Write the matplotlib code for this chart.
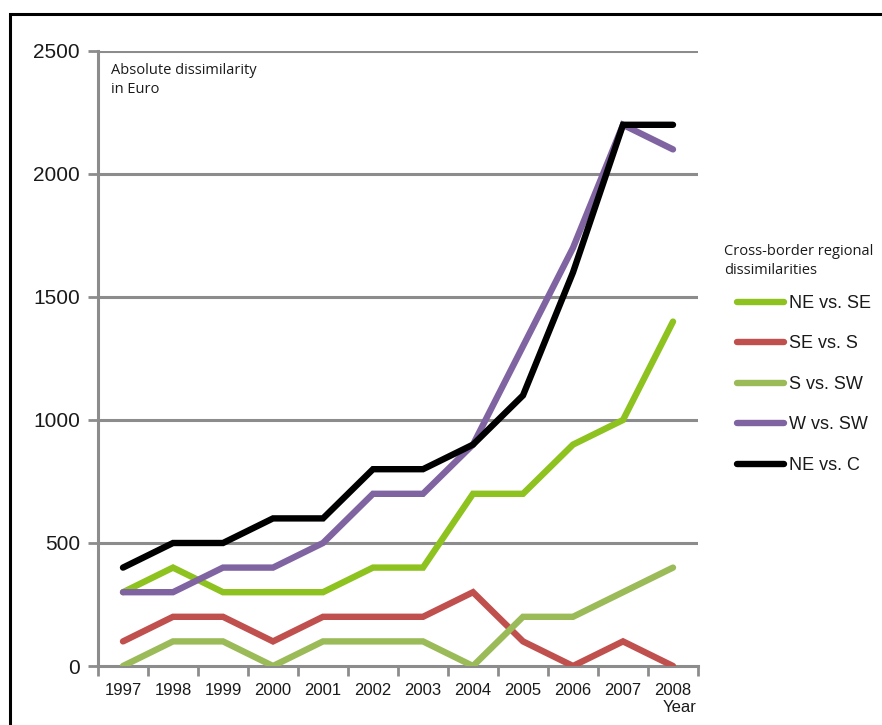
import matplotlib
matplotlib.use("Agg")
import matplotlib.pyplot as plt
from matplotlib.patches import Rectangle
from matplotlib.lines import Line2D

years = ["1997", "1998", "1999", "2000", "2001", "2002", "2003", "2004", "2005", "2006", "2007", "2008"]
ne_se = [300, 400, 300, 300, 300, 400, 400, 700, 700, 900, 1000, 1400]
se_s = [100, 200, 200, 100, 200, 200, 200, 300, 100, 0, 100, 0]
s_sw = [0, 100, 100, 0, 100, 100, 100, 0, 200, 200, 300, 400]
w_sw = [300, 300, 400, 400, 500, 700, 700, 900, 1300, 1700, 2200, 2100]
ne_c = [400, 500, 500, 600, 600, 800, 800, 900, 1100, 1600, 2200, 2200]
series_names = ["NE vs. SE", "SE vs. S", "S vs. SW", "W vs. SW", "NE vs. C"]
colors = ["#8DC21F", "#C0504D", "#9BBB59", "#8064A2", "#000000"]
yticks = [0, 500, 1000, 1500, 2000, 2500]

W, H = 882, 725
fig = plt.figure(figsize=(W / 100, H / 100), dpi=100)
fig.patch.set_facecolor("white")

# frame
fig.patches.append(Rectangle((10 / W, -0.1), 1.2, 1 - 14 / H + 0.1, transform=fig.transFigure,
                             fill=False, edgecolor="black", linewidth=2.2))

ax = fig.add_axes([98 / W, 1 - 666 / H, 600 / W, 615 / H])
ax.set_facecolor("none")
grey = "#8C8C8C"
x = list(range(len(years)))
order = [2, 1, 0, 3, 4]
data = [ne_se, se_s, s_sw, w_sw, ne_c]
for i in order:
    ax.plot(x, data[i], color=colors[i], linewidth=4.6, solid_capstyle="round",
            solid_joinstyle="miter", zorder=3 + i)

ax.set_xlim(-0.5, 11.5)
ax.set_ylim(0, 2500)
ax.set_yticks(yticks)
ax.set_yticklabels([str(v) for v in yticks], fontsize=15, fontfamily="Liberation Sans", color="#1a1a1a")
ax.set_xticks(x)
ax.set_xticklabels(years, fontsize=12, fontfamily="Liberation Sans", color="#1a1a1a")
ax.set_xticks([i - 0.5 for i in range(len(years) + 1)], minor=True)
ax.tick_params(axis="x", which="major", length=0, pad=12)
ax.tick_params(axis="x", which="minor", length=7, width=2, color=grey)
ax.tick_params(axis="y", which="major", length=7, width=2, color=grey, pad=6)
for v in yticks[1:]:
    ax.axhline(v, color=grey, linewidth=2.2, zorder=1)
for s in ["top", "right"]:
    ax.spines[s].set_visible(False)
for s in ["left", "bottom"]:
    ax.spines[s].set_color(grey)
    ax.spines[s].set_linewidth(2.2)
    ax.spines[s].set_zorder(2)

fig.text(697 / W, 1 - 707 / H, "Year", ha="right", va="center", fontsize=12,
         fontfamily="Liberation Sans", color="#1a1a1a")
fig.text(111 / W, 1 - 80 / H, "Absolute dissimilarity\nin Euro", ha="left", va="center",
         fontsize=10.5, fontfamily="Open Sans", color="#1a1a1a", linespacing=1.35)
fig.text(724 / W, 1 - 261 / H, "Cross-border regional\ndissimilarities", ha="left", va="center",
         fontsize=10.5, fontfamily="Open Sans", color="#1a1a1a", linespacing=1.35)

handles = [Line2D([0], [0], color=c, linewidth=4.6, solid_capstyle="round") for c in colors]
leg = fig.legend(handles, series_names, loc="upper left", bbox_to_anchor=(737 / W, 1 - 295 / H),
                 frameon=False, handlelength=2.6, handletextpad=0.3, labelspacing=1.3,
                 prop={"family": "Liberation Sans", "size": 13}, borderaxespad=0, borderpad=0)
for t in leg.get_texts():
    t.set_color("#1a1a1a")

fig.savefig("out.png", dpi=100, facecolor="white")
